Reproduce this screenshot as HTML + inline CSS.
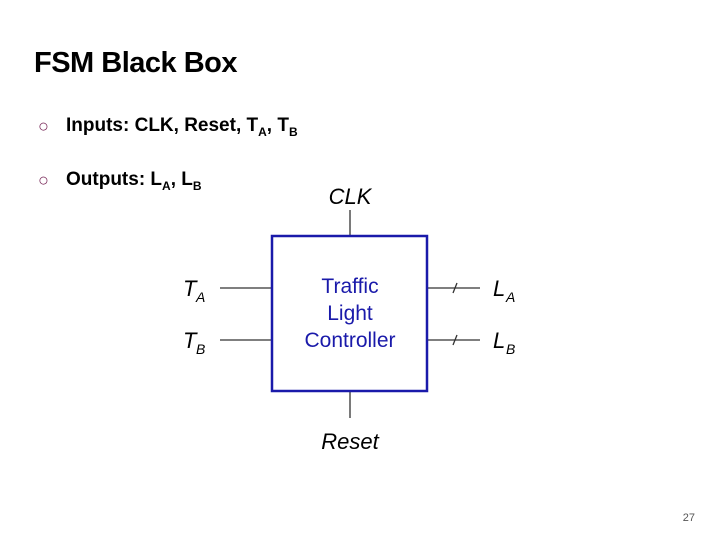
<!DOCTYPE html>
<html><head><style>
body{margin:0;width:720px;height:540px;background:#fff;position:relative;overflow:hidden;font-family:"Liberation Sans",sans-serif}
.t{position:absolute;white-space:nowrap}
</style></head><body>
<div class="t" style="left:34px;top:47px;font-size:29px;font-weight:bold;letter-spacing:-0.5px;color:#000">FSM Black Box</div>
<div class="t" style="left:38px;top:116px;font-size:18px;color:#7a2a5a">○</div>
<div class="t" style="left:66px;top:115px;font-size:19px;font-weight:bold;color:#000">Inputs: CLK, Reset, T<sub style="font-size:12px">A</sub>, T<sub style="font-size:12px">B</sub></div>
<div class="t" style="left:38px;top:170px;font-size:18px;color:#7a2a5a">○</div>
<div class="t" style="left:66px;top:169px;font-size:19px;font-weight:bold;color:#000">Outputs: L<sub style="font-size:12px">A</sub>, L<sub style="font-size:12px">B</sub></div>
<svg width="720" height="540" style="position:absolute;left:0;top:0" font-family="Liberation Sans, sans-serif">
<g stroke="#333" stroke-width="1.3">
<line x1="350" y1="210" x2="350" y2="236"/>
<line x1="350" y1="391" x2="350" y2="418"/>
<line x1="220" y1="288" x2="272" y2="288"/>
<line x1="220" y1="340" x2="272" y2="340"/>
<line x1="427" y1="288" x2="480" y2="288"/>
<line x1="427" y1="340" x2="480" y2="340"/>
<line x1="453" y1="293" x2="457" y2="283"/>
<line x1="453" y1="345" x2="457" y2="335"/>
</g>
<rect x="272" y="236" width="155" height="155" fill="#fff" stroke="#1a1aaa" stroke-width="2.5"/>
<g fill="#1a1aaa" font-size="21" text-anchor="middle">
<text x="350" y="293">Traffic</text>
<text x="350" y="320">Light</text>
<text x="350" y="347">Controller</text>
</g>
<g fill="#000" font-style="italic" font-size="22">
<text x="350" y="204" text-anchor="middle">CLK</text>
<text x="350" y="449" text-anchor="middle">Reset</text>
<text x="183" y="296">T</text><text x="196" y="302" font-size="14">A</text>
<text x="183" y="348">T</text><text x="196" y="354" font-size="14">B</text>
<text x="493" y="296">L</text><text x="506" y="302" font-size="14">A</text>
<text x="493" y="348">L</text><text x="506" y="354" font-size="14">B</text>
</g>
<text x="695" y="521" font-size="11" fill="#555" text-anchor="end">27</text>
</svg>
</body></html>
